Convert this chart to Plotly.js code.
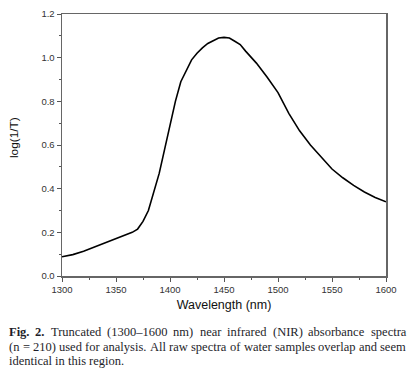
<!DOCTYPE html>
<html>
<head>
<meta charset="utf-8">
<script src="https://cdn.plot.ly/plotly-3.0.1.min.js"></script>
<style>html,body{margin:0;padding:0;background:#fff;}#chart{width:412px;height:378px;}</style>
</head>
<body>
<div id="chart"></div>
<script>
const wavelength = [1300,1310,1320,1330,1340,1350,1360,1365,1370,1375,1380,1385,1390,1395,1400,1405,1410,1415,1420,1425,1430,1435,1440,1445,1450,1455,1460,1465,1470,1480,1490,1500,1510,1520,1530,1540,1550,1560,1570,1580,1590,1600];
const absorbance = [0.088,0.098,0.113,0.132,0.150,0.170,0.188,0.200,0.215,0.250,0.300,0.380,0.470,0.580,0.690,0.800,0.890,0.940,0.990,1.020,1.045,1.065,1.078,1.090,1.093,1.090,1.075,1.060,1.030,0.975,0.910,0.840,0.745,0.665,0.600,0.545,0.490,0.450,0.415,0.385,0.360,0.340];
const xTitle = "Wavelength (nm)";
const yTitle = "log(1/T)";
const captionBold = "Fig. 2.";
const captionLines = [
  "Fig. 2. Truncated (1300–1600 nm) near infrared (NIR) absorbance spectra",
  "(n = 210) used for analysis. All raw spectra of water samples overlap and seem",
  "identical in this region."
];

const W = 412, H = 378, L = 62, R = 26, T = 14, B = 102;
const pw = W - L - R, ph = H - T - B;
const px2x = p => (p - L) / pw;
const py2y = p => (H - B - p) / ph;

const capFont = 'Liberation Serif';
const capSize = 12.5;
const capColor = '#1e1e2a';
const capLeft = 7, capRight = 404;
const ctx = document.createElement('canvas').getContext('2d');
const boldWords = captionBold.split(' ');
function measure(word, bold) {
  ctx.font = (bold ? 'bold ' : '') + capSize + 'px "' + capFont + '"';
  return ctx.measureText(word).width;
}

const annotations = [];
captionLines.forEach((line, i) => {
  const y = py2y(332 + i * 14.5);
  const justify = i < captionLines.length - 1;
  const words = line.split(' ');
  const isBold = words.map((w, k) => i === 0 && k < boldWords.length && boldWords[k] === w);
  const widths = words.map((w, k) => measure(w, isBold[k]));
  const total = widths.reduce((a, b) => a + b, 0);
  const gap = justify ? (capRight - capLeft - total) / (words.length - 1) : measure(' ', false);
  let x = capLeft;
  words.forEach((w, k) => {
    annotations.push({
      text: isBold[k] ? '<b>' + w + '</b>' : w,
      xref: 'paper', yref: 'paper', x: px2x(x), y: y,
      xanchor: 'left', yanchor: 'middle', showarrow: false,
      font: {family: capFont, size: capSize, color: capColor}
    });
    x += widths[k] + gap;
  });
});
annotations.push({
  text: yTitle, xref: 'paper', yref: 'paper',
  x: px2x(14), y: py2y(138), textangle: -90,
  xanchor: 'center', yanchor: 'middle', showarrow: false,
  font: {family: 'Liberation Sans, Arial', size: 11.8, color: '#111'}
});

const axisCommon = {
  showline: true, linecolor: '#666', linewidth: 1.5, mirror: true,
  ticks: 'outside', ticklen: 4, tickwidth: 1, tickcolor: '#555',
  showgrid: false, zeroline: false,
  tickfont: {family: 'Liberation Sans, Arial', size: 9.5, color: '#333'}
};

Plotly.newPlot('chart', [{
  x: wavelength, y: absorbance, type: 'scatter', mode: 'lines',
  line: {color: '#000', width: 1.6}, hoverinfo: 'skip'
}], {
  width: W, height: H,
  margin: {l: L, r: R, t: T, b: B, pad: 0},
  paper_bgcolor: '#fff', plot_bgcolor: '#fff',
  showlegend: false,
  xaxis: Object.assign({}, axisCommon, {
    range: [1300, 1600], dtick: 50, tick0: 1300,
    minor: {dtick: 25, ticklen: 2, tickcolor: '#555', ticks: 'outside'},
    title: {text: xTitle, standoff: 6, font: {family: 'Liberation Sans, Arial', size: 12.5, color: '#111'}}
  }),
  yaxis: Object.assign({}, axisCommon, {
    range: [0, 1.2], dtick: 0.2, tick0: 0, tickformat: '.1f',
    minor: {dtick: 0.1, ticklen: 2, tickcolor: '#555', ticks: 'outside'}
  }),
  annotations: annotations
}, {displayModeBar: false, staticPlot: true});
</script>
</body>
</html>
